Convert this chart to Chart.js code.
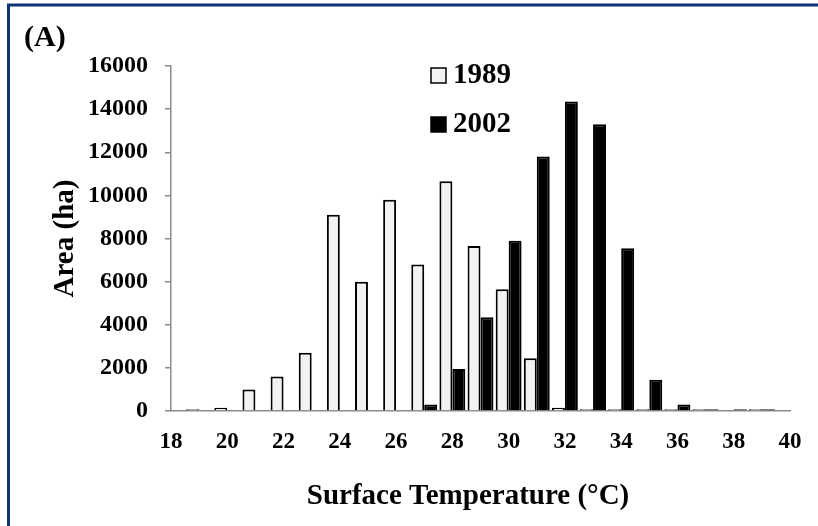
<!DOCTYPE html>
<html>
<head>
<meta charset="utf-8">
<script src="https://cdn.jsdelivr.net/npm/chart.js@4/dist/chart.umd.min.js"></script>
<style>
  html, body { margin: 0; padding: 0; background: #ffffff; }
  #wrap { position: relative; width: 818px; height: 526px; }
</style>
</head>
<body>
<div id="wrap"><canvas id="c" width="818" height="526"></canvas></div>
<script>
// ---- data ----
const temperatures = [19, 20, 21, 22, 23, 24, 25, 26, 27, 28, 29, 30, 31, 32, 33, 34, 35, 36, 37, 38, 39];
const area1989 = [80, 150, 1000, 1600, 2700, 9100, 6000, 9800, 6800, 10650, 7650, 5650, 2450, 150, 80, 80, 80, 80, 80, 0, 80];
const area2002 = [0, 0, 0, 0, 0, 0, 0, 0, 300, 1950, 4350, 7900, 11800, 14350, 13300, 7550, 1450, 300, 80, 80, 80];
const seriesNames = ['1989', '2002'];
const yTickValues = [0, 2000, 4000, 6000, 8000, 10000, 12000, 14000, 16000];
const panelLabel = '(A)';
const xTitle = 'Surface Temperature (°C)';
const yTitle = 'Area (ha)';

const SERIF = '"Liberation Serif", "Times New Roman", serif';
const AXIS_GRAY = '#8c8c8c';

const toPoints = (vals) => temperatures.map((t, i) => ({ x: t, y: vals[i] }));

const decorPlugin = {
  id: 'decor',
  beforeDraw(chart) {
    const ctx = chart.ctx;
    ctx.save();
    ctx.fillStyle = '#ffffff';
    ctx.fillRect(0, 0, chart.width, chart.height);
    ctx.strokeStyle = '#0e3372';
    ctx.lineWidth = 3;
    ctx.beginPath();
    ctx.moveTo(8.5, 560);
    ctx.lineTo(8.5, 5);
    ctx.lineTo(830, 5);
    ctx.stroke();
    ctx.restore();
  },
  afterDraw(chart) {
    const ctx = chart.ctx;
    ctx.save();
    ctx.fillStyle = '#000';
    ctx.textBaseline = 'middle';
    ctx.font = 'bold 30px ' + SERIF;
    ctx.textAlign = 'left';
    ctx.fillText(panelLabel, 24, 38);
    ctx.font = 'bold 29px ' + SERIF;
    ctx.textAlign = 'center';
    ctx.fillText(xTitle, 468, 497);
    const ds = chart.data.datasets;
    const rows = [75, 124];
    ds.forEach((d, i) => {
      const y = rows[i];
      ctx.fillStyle = d.backgroundColor;
      ctx.fillRect(431, y - 7, 15, 15);
      ctx.strokeStyle = '#000';
      ctx.lineWidth = 1.5;
      ctx.strokeRect(431, y - 7, 15, 15);
      ctx.fillStyle = '#000';
      ctx.font = 'bold 29px ' + SERIF;
      ctx.textAlign = 'left';
      ctx.fillText(d.label, 453, y + 1);
    });
    ctx.restore();
  }
};

new Chart(document.getElementById('c'), {
  type: 'bar',
  data: {
    datasets: [
      {
        label: seriesNames[0],
        data: toPoints(area1989),
        backgroundColor: '#f2f2f2',
        borderColor: '#000000',
        borderWidth: 2,
        barPercentage: 1.0,
        categoryPercentage: 0.92
      },
      {
        label: seriesNames[1],
        data: toPoints(area2002),
        backgroundColor: '#000000',
        borderColor: '#000000',
        borderWidth: 2,
        barPercentage: 1.0,
        categoryPercentage: 0.92
      }
    ]
  },
  options: {
    responsive: false,
    animation: false,
    devicePixelRatio: 1,
    layout: { padding: { left: 0, right: 28, top: 66, bottom: 0 } },
    plugins: {
      legend: { display: false },
      tooltip: { enabled: false },
      title: { display: false }
    },
    scales: {
      x: {
        type: 'linear',
        min: 18,
        max: 40,
        offset: false,
        grid: { display: false },
        border: { display: true, color: AXIS_GRAY, width: 1.5 },
        ticks: {
          stepSize: 2,
          padding: 9,
          color: '#000',
          font: { family: SERIF, size: 23, weight: 'bold' },
          maxRotation: 0,
          autoSkip: false,
          callback: (v) => String(v)
        },
        afterFit(scale) { scale.height = 115; }
      },
      y: {
        min: yTickValues[0],
        max: yTickValues[yTickValues.length - 1],
        grid: {
          display: true,
          drawOnChartArea: false,
          drawTicks: true,
          tickLength: 6,
          color: AXIS_GRAY,
          lineWidth: 1.5
        },
        border: { display: true, color: AXIS_GRAY, width: 1.5 },
        afterBuildTicks(scale) { scale.ticks = yTickValues.map(v => ({ value: v })); },
        ticks: {
          padding: 17,
          color: '#000',
          font: { family: SERIF, size: 24, weight: 'bold' },
          callback: (v) => String(v)
        },
        title: {
          display: true,
          text: yTitle,
          color: '#000',
          font: { family: SERIF, size: 29, weight: 'bold' },
          padding: { top: 48, bottom: 0 }
        },
        afterFit(scale) { scale.width = 171; }
      }
    }
  },
  plugins: [decorPlugin]
});
</script>
</body>
</html>
